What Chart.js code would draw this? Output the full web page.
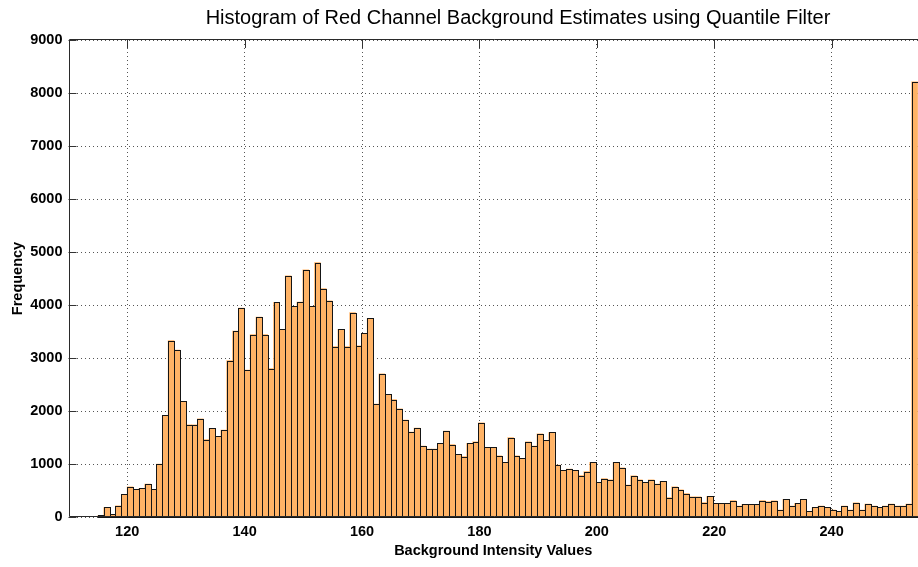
<!DOCTYPE html>
<html>
<head>
<meta charset="utf-8">
<script src="https://cdn.jsdelivr.net/npm/chart.js@4.4.1/dist/chart.umd.min.js"></script>
<style>
  html, body { margin: 0; padding: 0; background: #fff; }
  #wrap { width: 918px; height: 567px; position: relative; }
</style>
</head>
<body>
<div id="wrap"><canvas id="histChart"></canvas></div>
<script>
const chartTitle = "Histogram of Red Channel Background Estimates using Quantile Filter";
const xTitle = "Background Intensity Values";
const yTitle = "Frequency";

// histogram bins: 140 bins of equal width starting just above 115
const binStart = 115.01;
const binWidth = 0.9973;
const counts = [
  30, 180, 50, 210, 430, 570, 520, 540, 620, 520,
  1000, 1920, 3330, 3150, 2180, 1740, 1740, 1850, 1460, 1670,
  1520, 1640, 2950, 3510, 3940, 2770, 3440, 3770, 3440, 2800,
  4050, 3540, 4550, 3975, 4055, 4665, 3975, 4800, 4310, 4080,
  3215, 3540, 3215, 3855, 3230, 3465, 3750, 2130, 2700, 2315,
  2215, 2040, 1830, 1600, 1680, 1340, 1280, 1280, 1390, 1620,
  1365, 1180, 1140, 1390, 1420, 1775, 1315, 1315, 1155, 1030,
  1500, 1155, 1105, 1420, 1340, 1570, 1445, 1595, 980, 880,
  905, 880, 780, 855, 1030, 655, 725, 700, 1030, 930,
  600, 775, 700, 655, 700, 620, 675, 365, 570, 515,
  440, 380, 380, 270, 390, 260, 260, 260, 310, 205,
  240, 240, 240, 310, 290, 305, 130, 335, 205, 260,
  335, 105, 180, 205, 181, 131, 106, 206, 131, 269,
  131, 244, 206, 181, 206, 244, 206, 206, 244, 8210
];
const binCenters = counts.map((_, i) => binStart + (i + 0.5) * binWidth);

const xTickValues = [120, 140, 160, 180, 200, 220, 240];
const yTickValues = [0, 1000, 2000, 3000, 4000, 5000, 6000, 7000, 8000, 9000];
const xRange = [110, 254.71];
const yRange = [0, 9000];

const FONT = "'Liberation Sans Narrow', 'Arial Narrow', 'Liberation Sans', Arial, sans-serif";
const BAR_FILL = "rgb(255,179,102)";
const GRID = "#555";

const titlePlugin = {
  id: "plotTitle",
  afterDraw(chart) {
    const ctx = chart.ctx;
    ctx.save();
    ctx.fillStyle = "#000";
    ctx.font = "20px " + FONT;
    ctx.textAlign = "center";
    ctx.textBaseline = "alphabetic";
    ctx.fillText(chartTitle, 518, 24);
    ctx.restore();
  }
};

const outlinePlugin = {
  id: "barOutline",
  afterDatasetsDraw(chart) {
    const ctx = chart.ctx;
    const meta = chart.getDatasetMeta(0);
    ctx.save();
    ctx.strokeStyle = "#151515";
    ctx.lineWidth = 1;
    meta.data.forEach(bar => {
      const p = bar.getProps(["x", "y", "base", "width"], true);
      const l = Math.round(p.x - p.width / 2) + 0.5;
      const r = Math.round(p.x + p.width / 2) + 0.5;
      const t = Math.round(p.y) + 0.5;
      const b = Math.round(p.base) + 0.5;
      ctx.strokeRect(l, t, r - l, b - t);
    });
    ctx.restore();
  }
};

const framePlugin = {
  id: "frame",
  beforeDatasetsDraw(chart) {
    const { ctx, chartArea: a, scales } = chart;
    const len = 8;
    ctx.save();
    ctx.strokeStyle = "#333";
    ctx.lineWidth = 1;
    ctx.beginPath();
    yTickValues.forEach(v => {
      const y = Math.round(scales.y.getPixelForValue(v)) + 0.5;
      ctx.moveTo(a.left, y);
      ctx.lineTo(a.left + len, y);
    });
    xTickValues.forEach(v => {
      const x = Math.round(scales.x.getPixelForValue(v)) + 0.5;
      ctx.moveTo(x, a.bottom);
      ctx.lineTo(x, a.bottom - len);
      ctx.moveTo(x, a.top);
      ctx.lineTo(x, a.top + len);
    });
    ctx.stroke();
    ctx.restore();
  },
  afterDraw(chart) {
    const { ctx, chartArea: a } = chart;
    const l = Math.round(a.left) + 0.5;
    const t = Math.round(a.top) - 0.5;
    const b = Math.round(a.bottom) - 0.5;
    ctx.save();
    ctx.strokeStyle = "#2a2a2a";
    ctx.lineWidth = 1;
    ctx.beginPath();
    ctx.moveTo(a.right + 2, t);
    ctx.lineTo(l, t);
    ctx.lineTo(l, b);
    ctx.lineTo(a.right + 2, b);
    ctx.stroke();
    ctx.restore();
  }
};

const ctx = document.getElementById("histChart").getContext("2d");
new Chart(ctx, {
  type: "bar",
  data: {
    labels: binCenters,
    datasets: [{
      label: "Frequency",
      data: counts,
      backgroundColor: BAR_FILL,
      borderWidth: 0,
      barPercentage: 1,
      categoryPercentage: 1
    }]
  },
  options: {
    responsive: true,
    maintainAspectRatio: false,
    animation: false,
    events: [],
    layout: { padding: { top: 40, left: 0, right: 0, bottom: 0 } },
    plugins: {
      legend: { display: false },
      title: { display: false },
      tooltip: { enabled: false }
    },
    scales: {
      x: {
        type: "linear",
        offset: false,
        min: xRange[0],
        max: xRange[1],
        afterBuildTicks: s => { s.ticks = xTickValues.map(v => ({ value: v })); },
        afterFit: s => { s.height = 50; },
        grid: { offset: false, color: GRID, drawTicks: false },
        border: { display: false, dash: [1, 3] },
        ticks: {
          padding: 6,
          color: "#000",
          font: { family: FONT, size: 14.5, weight: "bold" },
          callback: v => String(v)
        },
        title: {
          display: true,
          text: xTitle,
          color: "#000",
          font: { family: FONT, size: 14.5, weight: "bold" },
          padding: { top: 0, bottom: 7 }
        }
      },
      y: {
        min: yRange[0],
        max: yRange[1],
        afterBuildTicks: s => { s.ticks = yTickValues.map(v => ({ value: v })); },
        afterFit: s => { s.width = 68.5; },
        grid: { color: GRID, drawTicks: false },
        border: { display: false, dash: [1, 3] },
        ticks: {
          padding: 6,
          color: "#000",
          font: { family: FONT, size: 14.5, weight: "bold" },
          callback: v => String(v)
        },
        title: {
          display: true,
          text: yTitle,
          color: "#000",
          font: { family: FONT, size: 14.5, weight: "bold" },
          padding: { top: 9, bottom: 0 }
        }
      }
    }
  },
  plugins: [titlePlugin, framePlugin, outlinePlugin]
});
</script>
</body>
</html>
